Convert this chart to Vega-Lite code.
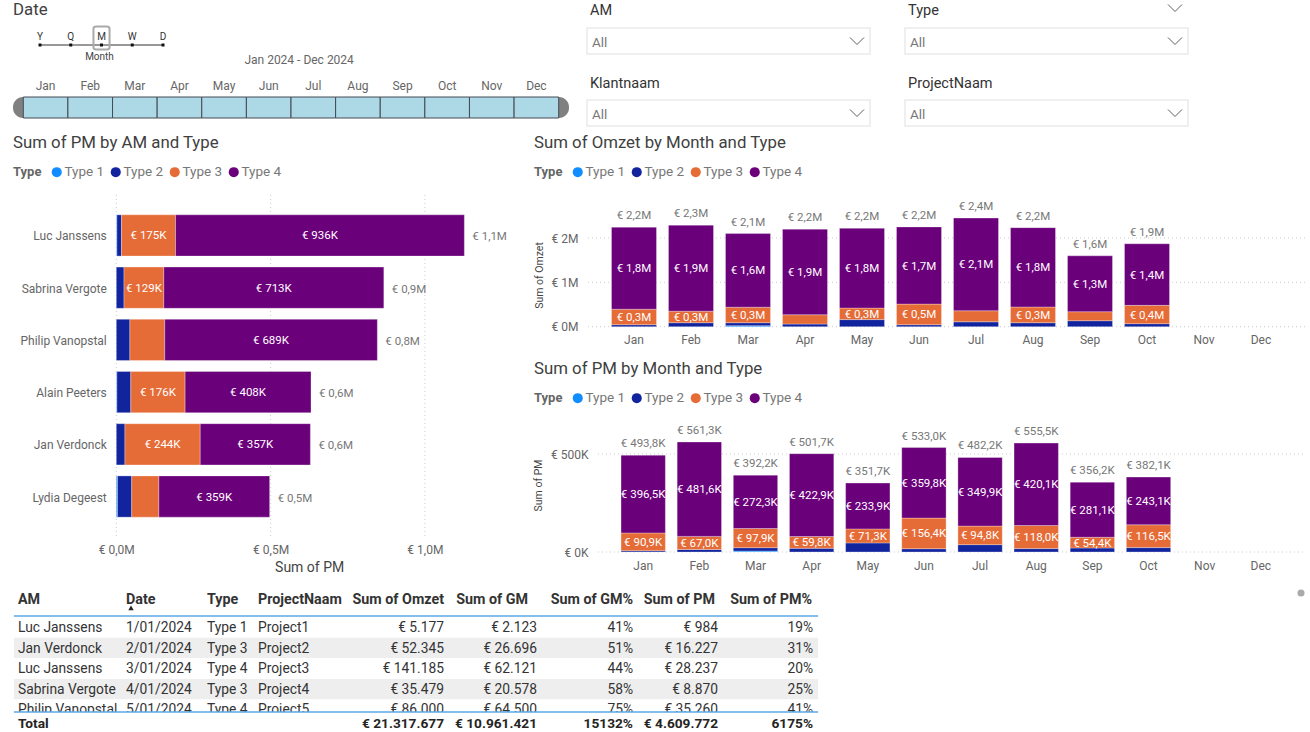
{
  "$schema": "https://vega.github.io/schema/vega-lite/v6.json",
  "width": 1310,
  "height": 732,
  "padding": 0,
  "autosize": {"type": "none"},
  "background": "#ffffff",
  "config": {
    "font": "Roboto",
    "view": {"stroke": null},
    "text": {"font": "Roboto", "fontSize": 12, "color": "#666666"},
    "axis": {"domain": false, "ticks": false, "grid": false, "labelFlush": false, "labelFont": "Roboto", "labelFontSize": 12, "labelColor": "#666666", "titleFont": "Roboto", "titleFontWeight": "normal", "titleColor": "#444444"},
    "legend": {"titleFont": "Roboto", "labelFont": "Roboto", "titleFontSize": 13, "labelFontSize": 13.5, "titleColor": "#666666", "labelColor": "#777777", "titleFontWeight": "bold", "titlePadding": 8, "symbolType": "circle", "symbolSize": 100, "symbolStrokeWidth": 0, "labelOffset": 1, "columnPadding": 4}
  },
  "datasets": {
    "am": [
      {"AM": "Luc Janssens", "Type": "Type 1", "PM": 2000, "label": ""},
      {"AM": "Luc Janssens", "Type": "Type 2", "PM": 15000, "label": ""},
      {"AM": "Luc Janssens", "Type": "Type 3", "PM": 175000, "label": "€ 175K"},
      {"AM": "Luc Janssens", "Type": "Type 4", "PM": 936000, "label": "€ 936K"},
      {"AM": "Sabrina Vergote", "Type": "Type 2", "PM": 25000, "label": ""},
      {"AM": "Sabrina Vergote", "Type": "Type 3", "PM": 129000, "label": "€ 129K"},
      {"AM": "Sabrina Vergote", "Type": "Type 4", "PM": 713000, "label": "€ 713K"},
      {"AM": "Philip Vanopstal", "Type": "Type 2", "PM": 44000, "label": ""},
      {"AM": "Philip Vanopstal", "Type": "Type 3", "PM": 113000, "label": ""},
      {"AM": "Philip Vanopstal", "Type": "Type 4", "PM": 689000, "label": "€ 689K"},
      {"AM": "Alain Peeters", "Type": "Type 1", "PM": 2000, "label": ""},
      {"AM": "Alain Peeters", "Type": "Type 2", "PM": 45000, "label": ""},
      {"AM": "Alain Peeters", "Type": "Type 3", "PM": 176000, "label": "€ 176K"},
      {"AM": "Alain Peeters", "Type": "Type 4", "PM": 408000, "label": "€ 408K"},
      {"AM": "Jan Verdonck", "Type": "Type 2", "PM": 28000, "label": ""},
      {"AM": "Jan Verdonck", "Type": "Type 3", "PM": 244000, "label": "€ 244K"},
      {"AM": "Jan Verdonck", "Type": "Type 4", "PM": 357000, "label": "€ 357K"},
      {"AM": "Lydia Degeest", "Type": "Type 1", "PM": 4000, "label": ""},
      {"AM": "Lydia Degeest", "Type": "Type 2", "PM": 46000, "label": ""},
      {"AM": "Lydia Degeest", "Type": "Type 3", "PM": 88000, "label": ""},
      {"AM": "Lydia Degeest", "Type": "Type 4", "PM": 359000, "label": "€ 359K"}
    ],
    "amTotals": [
      {"AM": "Luc Janssens", "PM": 1128000, "label": "€ 1,1M"},
      {"AM": "Sabrina Vergote", "PM": 867000, "label": "€ 0,9M"},
      {"AM": "Philip Vanopstal", "PM": 846000, "label": "€ 0,8M"},
      {"AM": "Alain Peeters", "PM": 631000, "label": "€ 0,6M"},
      {"AM": "Jan Verdonck", "PM": 629000, "label": "€ 0,6M"},
      {"AM": "Lydia Degeest", "PM": 497000, "label": "€ 0,5M"}
    ],
    "omzet": [
      {"Month": "Jan", "Type": "Type 2", "Omzet": 45000, "label": ""},
      {"Month": "Jan", "Type": "Type 3", "Omzet": 350000, "label": "€ 0,3M"},
      {"Month": "Jan", "Type": "Type 4", "Omzet": 1850000, "label": "€ 1,8M"},
      {"Month": "Feb", "Type": "Type 2", "Omzet": 90000, "label": ""},
      {"Month": "Feb", "Type": "Type 3", "Omzet": 260000, "label": "€ 0,3M"},
      {"Month": "Feb", "Type": "Type 4", "Omzet": 1940000, "label": "€ 1,9M"},
      {"Month": "Mar", "Type": "Type 1", "Omzet": 23000, "label": ""},
      {"Month": "Mar", "Type": "Type 2", "Omzet": 67000, "label": ""},
      {"Month": "Mar", "Type": "Type 3", "Omzet": 350000, "label": "€ 0,3M"},
      {"Month": "Mar", "Type": "Type 4", "Omzet": 1660000, "label": "€ 1,6M"},
      {"Month": "Apr", "Type": "Type 2", "Omzet": 60000, "label": ""},
      {"Month": "Apr", "Type": "Type 3", "Omzet": 210000, "label": ""},
      {"Month": "Apr", "Type": "Type 4", "Omzet": 1930000, "label": "€ 1,9M"},
      {"Month": "May", "Type": "Type 2", "Omzet": 160000, "label": ""},
      {"Month": "May", "Type": "Type 3", "Omzet": 260000, "label": "€ 0,3M"},
      {"Month": "May", "Type": "Type 4", "Omzet": 1800000, "label": "€ 1,8M"},
      {"Month": "Jun", "Type": "Type 2", "Omzet": 45000, "label": ""},
      {"Month": "Jun", "Type": "Type 3", "Omzet": 465000, "label": "€ 0,5M"},
      {"Month": "Jun", "Type": "Type 4", "Omzet": 1740000, "label": "€ 1,7M"},
      {"Month": "Jul", "Type": "Type 2", "Omzet": 110000, "label": ""},
      {"Month": "Jul", "Type": "Type 3", "Omzet": 250000, "label": ""},
      {"Month": "Jul", "Type": "Type 4", "Omzet": 2090000, "label": "€ 2,1M"},
      {"Month": "Aug", "Type": "Type 2", "Omzet": 90000, "label": ""},
      {"Month": "Aug", "Type": "Type 3", "Omzet": 354000, "label": "€ 0,3M"},
      {"Month": "Aug", "Type": "Type 4", "Omzet": 1790000, "label": "€ 1,8M"},
      {"Month": "Sep", "Type": "Type 2", "Omzet": 135000, "label": ""},
      {"Month": "Sep", "Type": "Type 3", "Omzet": 203000, "label": ""},
      {"Month": "Sep", "Type": "Type 4", "Omzet": 1260000, "label": "€ 1,3M"},
      {"Month": "Oct", "Type": "Type 2", "Omzet": 68000, "label": ""},
      {"Month": "Oct", "Type": "Type 3", "Omzet": 413000, "label": "€ 0,4M"},
      {"Month": "Oct", "Type": "Type 4", "Omzet": 1390000, "label": "€ 1,4M"}
    ],
    "omzetTotals": [
      {"Month": "Jan", "Omzet": 2245000, "label": "€ 2,2M"},
      {"Month": "Feb", "Omzet": 2290000, "label": "€ 2,3M"},
      {"Month": "Mar", "Omzet": 2100000, "label": "€ 2,1M"},
      {"Month": "Apr", "Omzet": 2200000, "label": "€ 2,2M"},
      {"Month": "May", "Omzet": 2220000, "label": "€ 2,2M"},
      {"Month": "Jun", "Omzet": 2250000, "label": "€ 2,2M"},
      {"Month": "Jul", "Omzet": 2450000, "label": "€ 2,4M"},
      {"Month": "Aug", "Omzet": 2234000, "label": "€ 2,2M"},
      {"Month": "Sep", "Omzet": 1598000, "label": "€ 1,6M"},
      {"Month": "Oct", "Omzet": 1871000, "label": "€ 1,9M"}
    ],
    "pm": [
      {"Month": "Jan", "Type": "Type 2", "PM": 6400, "label": ""},
      {"Month": "Jan", "Type": "Type 3", "PM": 90900, "label": "€ 90,9K"},
      {"Month": "Jan", "Type": "Type 4", "PM": 396500, "label": "€ 396,5K"},
      {"Month": "Feb", "Type": "Type 2", "PM": 12700, "label": ""},
      {"Month": "Feb", "Type": "Type 3", "PM": 67000, "label": "€ 67,0K"},
      {"Month": "Feb", "Type": "Type 4", "PM": 481600, "label": "€ 481,6K"},
      {"Month": "Mar", "Type": "Type 1", "PM": 5000, "label": ""},
      {"Month": "Mar", "Type": "Type 2", "PM": 17000, "label": ""},
      {"Month": "Mar", "Type": "Type 3", "PM": 97900, "label": "€ 97,9K"},
      {"Month": "Mar", "Type": "Type 4", "PM": 272300, "label": "€ 272,3K"},
      {"Month": "Apr", "Type": "Type 2", "PM": 19000, "label": ""},
      {"Month": "Apr", "Type": "Type 3", "PM": 59800, "label": "€ 59,8K"},
      {"Month": "Apr", "Type": "Type 4", "PM": 422900, "label": "€ 422,9K"},
      {"Month": "May", "Type": "Type 2", "PM": 46500, "label": ""},
      {"Month": "May", "Type": "Type 3", "PM": 71300, "label": "€ 71,3K"},
      {"Month": "May", "Type": "Type 4", "PM": 233900, "label": "€ 233,9K"},
      {"Month": "Jun", "Type": "Type 2", "PM": 16800, "label": ""},
      {"Month": "Jun", "Type": "Type 3", "PM": 156400, "label": "€ 156,4K"},
      {"Month": "Jun", "Type": "Type 4", "PM": 359800, "label": "€ 359,8K"},
      {"Month": "Jul", "Type": "Type 2", "PM": 37500, "label": ""},
      {"Month": "Jul", "Type": "Type 3", "PM": 94800, "label": "€ 94,8K"},
      {"Month": "Jul", "Type": "Type 4", "PM": 349900, "label": "€ 349,9K"},
      {"Month": "Aug", "Type": "Type 2", "PM": 17400, "label": ""},
      {"Month": "Aug", "Type": "Type 3", "PM": 118000, "label": "€ 118,0K"},
      {"Month": "Aug", "Type": "Type 4", "PM": 420100, "label": "€ 420,1K"},
      {"Month": "Sep", "Type": "Type 2", "PM": 20700, "label": ""},
      {"Month": "Sep", "Type": "Type 3", "PM": 54400, "label": "€ 54,4K"},
      {"Month": "Sep", "Type": "Type 4", "PM": 281100, "label": "€ 281,1K"},
      {"Month": "Oct", "Type": "Type 2", "PM": 22500, "label": ""},
      {"Month": "Oct", "Type": "Type 3", "PM": 116500, "label": "€ 116,5K"},
      {"Month": "Oct", "Type": "Type 4", "PM": 243100, "label": "€ 243,1K"}
    ],
    "pmTotals": [
      {"Month": "Jan", "PM": 493800, "label": "€ 493,8K"},
      {"Month": "Feb", "PM": 561300, "label": "€ 561,3K"},
      {"Month": "Mar", "PM": 392200, "label": "€ 392,2K"},
      {"Month": "Apr", "PM": 501700, "label": "€ 501,7K"},
      {"Month": "May", "PM": 351700, "label": "€ 351,7K"},
      {"Month": "Jun", "PM": 533000, "label": "€ 533,0K"},
      {"Month": "Jul", "PM": 482200, "label": "€ 482,2K"},
      {"Month": "Aug", "PM": 555500, "label": "€ 555,5K"},
      {"Month": "Sep", "PM": 356200, "label": "€ 356,2K"},
      {"Month": "Oct", "PM": 382100, "label": "€ 382,1K"}
    ],
    "months": [
      {"Month": "Jan"}, {"Month": "Feb"}, {"Month": "Mar"}, {"Month": "Apr"}, {"Month": "May"}, {"Month": "Jun"},
      {"Month": "Jul"}, {"Month": "Aug"}, {"Month": "Sep"}, {"Month": "Oct"}, {"Month": "Nov"}, {"Month": "Dec"}
    ],
    "levels": [{"Level": "Y"}, {"Level": "Q"}, {"Level": "M"}, {"Level": "W"}, {"Level": "D"}],
    "slicers": [
      {"Field": "AM", "Column": "left", "Row": "top"},
      {"Field": "Type", "Column": "right", "Row": "top"},
      {"Field": "Klantnaam", "Column": "left", "Row": "bottom"},
      {"Field": "ProjectNaam", "Column": "right", "Row": "bottom"}
    ],
    "tableHeader": [
      {"col": 0, "text": "AM"}, {"col": 1, "text": "Date"}, {"col": 2, "text": "Type"}, {"col": 3, "text": "ProjectNaam"},
      {"col": 4, "text": "Sum of Omzet"}, {"col": 5, "text": "Sum of GM"}, {"col": 6, "text": "Sum of GM%"}, {"col": 7, "text": "Sum of PM"}, {"col": 8, "text": "Sum of PM%"}
    ],
    "tableBody": [
      {"row": 1, "col": 0, "text": "Luc Janssens"}, {"row": 1, "col": 1, "text": "1/01/2024"}, {"row": 1, "col": 2, "text": "Type 1"}, {"row": 1, "col": 3, "text": "Project1"}, {"row": 1, "col": 4, "text": "€ 5.177"}, {"row": 1, "col": 5, "text": "€ 2.123"}, {"row": 1, "col": 6, "text": "41%"}, {"row": 1, "col": 7, "text": "€ 984"}, {"row": 1, "col": 8, "text": "19%"},
      {"row": 2, "col": 0, "text": "Jan Verdonck"}, {"row": 2, "col": 1, "text": "2/01/2024"}, {"row": 2, "col": 2, "text": "Type 3"}, {"row": 2, "col": 3, "text": "Project2"}, {"row": 2, "col": 4, "text": "€ 52.345"}, {"row": 2, "col": 5, "text": "€ 26.696"}, {"row": 2, "col": 6, "text": "51%"}, {"row": 2, "col": 7, "text": "€ 16.227"}, {"row": 2, "col": 8, "text": "31%"},
      {"row": 3, "col": 0, "text": "Luc Janssens"}, {"row": 3, "col": 1, "text": "3/01/2024"}, {"row": 3, "col": 2, "text": "Type 4"}, {"row": 3, "col": 3, "text": "Project3"}, {"row": 3, "col": 4, "text": "€ 141.185"}, {"row": 3, "col": 5, "text": "€ 62.121"}, {"row": 3, "col": 6, "text": "44%"}, {"row": 3, "col": 7, "text": "€ 28.237"}, {"row": 3, "col": 8, "text": "20%"},
      {"row": 4, "col": 0, "text": "Sabrina Vergote"}, {"row": 4, "col": 1, "text": "4/01/2024"}, {"row": 4, "col": 2, "text": "Type 3"}, {"row": 4, "col": 3, "text": "Project4"}, {"row": 4, "col": 4, "text": "€ 35.479"}, {"row": 4, "col": 5, "text": "€ 20.578"}, {"row": 4, "col": 6, "text": "58%"}, {"row": 4, "col": 7, "text": "€ 8.870"}, {"row": 4, "col": 8, "text": "25%"},
      {"row": 5, "col": 0, "text": "Philip Vanopstal"}, {"row": 5, "col": 1, "text": "5/01/2024"}, {"row": 5, "col": 2, "text": "Type 4"}, {"row": 5, "col": 3, "text": "Project5"}, {"row": 5, "col": 4, "text": "€ 86.000"}, {"row": 5, "col": 5, "text": "€ 64.500"}, {"row": 5, "col": 6, "text": "75%"}, {"row": 5, "col": 7, "text": "€ 35.260"}, {"row": 5, "col": 8, "text": "41%"}
    ],
    "tableTotal": [
      {"row": 6, "col": 0, "text": "Total"}, {"row": 6, "col": 4, "text": "€ 21.317.677"}, {"row": 6, "col": 5, "text": "€ 10.961.421"}, {"row": 6, "col": 6, "text": "15132%"}, {"row": 6, "col": 7, "text": "€ 4.609.772"}, {"row": 6, "col": 8, "text": "6175%"}
    ]
  },
  "resolve": {
    "scale": {"x": "independent", "y": "independent", "color": "independent"},
    "axis": {"x": "independent", "y": "independent"},
    "legend": {"color": "independent"}
  },
  "layer": [
    {
      "data": {"values": [
        {"title": "Date", "col": 0, "row": 0},
        {"title": "Sum of PM by AM and Type", "col": 0, "row": 1},
        {"title": "Sum of Omzet by Month and Type", "col": 1, "row": 1},
        {"title": "Sum of PM by Month and Type", "col": 1, "row": 2}
      ]},
      "mark": {"type": "text", "align": "left", "fontSize": 16.8, "color": "#404040"},
      "encoding": {
        "x": {"field": "col", "type": "quantitative", "axis": null, "scale": {"domain": [0, 1], "range": [13, 534], "nice": false}},
        "y": {"field": "row", "type": "quantitative", "axis": null, "scale": {"domain": [0, 1, 2], "range": [10, 143, 369], "nice": false}},
        "text": {"field": "title"}
      }
    },
    {
      "data": {"name": "levels"},
      "encoding": {
        "x": {"field": "Level", "type": "nominal", "sort": null, "axis": null, "scale": {"type": "point", "domain": ["Y", "Q", "M", "W", "D"], "range": [40, 163], "padding": 0}},
        "y": {"datum": 0, "type": "quantitative", "axis": null, "scale": {"domain": [0, 1], "range": [45, 46], "nice": false}}
      },
      "layer": [
        {"mark": {"type": "line", "color": "#333333", "strokeWidth": 1}},
        {"mark": {"type": "point", "shape": "square", "filled": true, "size": 9, "color": "#111111", "opacity": 1}},
        {"mark": {"type": "text", "dy": -8, "fontSize": 10, "color": "#333333"}, "encoding": {"text": {"field": "Level"}}},
        {
          "transform": [{"filter": "datum.Level === 'M'"}],
          "mark": {"type": "point", "shape": "M-0.45,-1L0.45,-1Q0.7,-1 0.7,-0.8L0.7,0.8Q0.7,1 0.45,1L-0.45,1Q-0.7,1 -0.7,0.8L-0.7,-0.8Q-0.7,-1 -0.45,-1Z", "size": 529, "stroke": "#aaaaaa", "strokeWidth": 2, "opacity": 1, "filled": false},
          "encoding": {"yOffset": {"value": -7}}
        },
        {
          "transform": [{"filter": "datum.Level === 'M'"}],
          "mark": {"type": "text", "dy": 12, "dx": -2, "fontSize": 10, "color": "#444444", "text": "Month"}
        }
      ]
    },
    {
      "data": {"name": "months"},
      "encoding": {
        "y": {"datum": "Date", "type": "nominal", "axis": null, "scale": {"type": "band", "domain": ["Date"], "range": [97, 118], "paddingInner": 0, "paddingOuter": 0}}
      },
      "layer": [
        {
          "data": {"values": [{"track": "Date"}]},
          "mark": {"type": "rect", "fill": "#808080", "cornerRadius": 10},
          "encoding": {
            "x": {"datum": 0, "type": "quantitative", "axis": null, "scale": {"domain": [0, 1], "range": [13, 569], "nice": false}},
            "x2": {"datum": 1}
          }
        },
        {
          "mark": {"type": "rect", "fill": "#ADD8E6", "stroke": "#444b55", "strokeWidth": 1},
          "encoding": {
            "x": {"field": "Month", "type": "nominal", "sort": null, "scale": {"type": "band", "domain": ["Jan", "Feb", "Mar", "Apr", "May", "Jun", "Jul", "Aug", "Sep", "Oct", "Nov", "Dec"], "range": [23.3, 558.7], "paddingInner": 0, "paddingOuter": 0}, "axis": {"orient": "top", "offset": -97, "title": null, "labelAngle": 0, "labelPadding": 5}}
          }
        }
      ]
    },
    {
      "data": {"values": [{"text": "Jan 2024 - Dec 2024", "Month": "Jun"}]},
      "mark": {"type": "text", "align": "left", "dx": -2, "dy": -47.5, "color": "#666666", "fontSize": 12},
      "encoding": {
        "x": {"field": "Month", "type": "nominal", "bandPosition": 0, "axis": null, "scale": {"type": "band", "domain": ["Jan", "Feb", "Mar", "Apr", "May", "Jun", "Jul", "Aug", "Sep", "Oct", "Nov", "Dec"], "range": [23.3, 558.7], "paddingInner": 0, "paddingOuter": 0}},
        "y": {"datum": "Date", "type": "nominal", "axis": null, "scale": {"type": "band", "domain": ["Date"], "range": [97, 118], "paddingInner": 0, "paddingOuter": 0}},
        "text": {"field": "text"}
      }
    },
    {
      "data": {"name": "slicers"},
      "encoding": {
        "x": {"field": "Column", "type": "nominal", "axis": null, "bandPosition": 0, "scale": {"type": "band", "domain": ["left", "right"], "range": [587, 1188], "paddingInner": 0.11, "paddingOuter": 0}},
        "y": {"field": "Row", "type": "nominal", "axis": null, "scale": {"type": "band", "domain": ["top", "bottom"], "range": [28, 126], "paddingInner": 0.639, "paddingOuter": 0}}
      },
      "layer": [
        {
          "mark": {"type": "rect", "fill": "#ffffff", "stroke": "#eaeaea", "strokeWidth": 1.5},
          "encoding": {"x": {"field": "Column", "type": "nominal", "axis": null}}
        },
        {"mark": {"type": "text", "align": "left", "dx": 3, "dy": -29.5, "fontSize": 14.5, "color": "#333333"}, "encoding": {"text": {"field": "Field"}}},
        {"mark": {"type": "text", "align": "left", "dx": 5, "dy": 2, "fontSize": 13.5, "color": "#777777", "text": "All"}}
      ]
    },
    {
      "data": {"values": [{"col": 1, "row": 0}, {"col": 0, "row": 1}, {"col": 1, "row": 1}, {"col": 0, "row": 2}, {"col": 1, "row": 2}]},
      "mark": {"type": "point", "shape": "M-1,-0.5L0,0.5L1,-0.5", "size": 196, "filled": false, "stroke": "#605e5c", "strokeWidth": 1, "opacity": 1},
      "encoding": {
        "x": {"field": "col", "type": "quantitative", "axis": null, "scale": {"domain": [0, 1], "range": [857, 1175], "nice": false}},
        "y": {"field": "row", "type": "quantitative", "axis": null, "scale": {"domain": [0, 1, 2], "range": [8, 41, 113], "nice": false}}
      }
    },
    {
      "data": {"values": [{"tick": 0}, {"tick": 500000}, {"tick": 1000000}]},
      "mark": {"type": "rule", "color": "#cccccc", "strokeDash": [1, 3], "strokeWidth": 1},
      "encoding": {
        "x": {"field": "tick", "type": "quantitative", "scale": {"domain": [0, 1250000], "range": [116.3, 502], "nice": false}, "axis": {"orient": "bottom", "offset": -195, "title": "Sum of PM", "titleFontSize": 14, "titlePadding": 5, "titleColor": "#444444", "values": [0, 500000, 1000000], "labelPadding": 7, "labelExpr": "'€ ' + replace(format(datum.value / 1000000, '.1f'), '.', ',') + 'M'"}},
        "y": {"datum": 0, "type": "quantitative", "axis": null, "scale": {"domain": [0, 1], "range": [195, 537], "nice": false}},
        "y2": {"datum": 1}
      }
    },
    {
      "data": {"name": "am"},
      "encoding": {
        "y": {"field": "AM", "type": "nominal", "sort": null, "scale": {"type": "band", "domain": ["Luc Janssens", "Sabrina Vergote", "Philip Vanopstal", "Alain Peeters", "Jan Verdonck", "Lydia Degeest"], "range": [195, 537], "paddingInner": 0.21, "paddingOuter": 0.38}, "axis": {"orient": "left", "offset": -116.3, "title": null, "labelPadding": 10, "labelOffset": 1}}
      },
      "layer": [
        {
          "mark": {"type": "bar", "stroke": "#ffffff", "strokeOpacity": 0.3, "strokeWidth": 1},
          "encoding": {
            "x": {"field": "PM", "type": "quantitative", "stack": "zero", "axis": null, "scale": {"domain": [0, 1250000], "range": [116.3, 502], "nice": false}},
            "color": {"field": "Type", "type": "nominal", "scale": {"domain": ["Type 1", "Type 2", "Type 3", "Type 4"], "range": ["#118DFF", "#12239E", "#E66C37", "#6B007B"]}, "legend": {"orient": "none", "legendX": 13, "legendY": 165, "direction": "horizontal", "titleOrient": "left", "title": "Type"}},
            "order": {"field": "Type", "sort": "ascending"}
          }
        },
        {
          "mark": {"type": "text", "color": "#ffffff", "fontSize": 11.5, "dy": 1},
          "encoding": {
            "x": {"field": "PM", "type": "quantitative", "stack": "zero", "bandPosition": 0.5, "axis": null},
            "detail": {"field": "Type"},
            "order": {"field": "Type", "sort": "ascending"},
            "text": {"field": "label"}
          }
        },
        {
          "data": {"name": "amTotals"},
          "mark": {"type": "text", "align": "left", "dx": 8, "dy": 2, "fontSize": 11.5, "color": "#777777"},
          "encoding": {
            "x": {"field": "PM", "type": "quantitative", "axis": null},
            "text": {"field": "label"}
          }
        }
      ]
    },
    {
      "data": {"values": [{"tick": 0}, {"tick": 1000000}, {"tick": 2000000}]},
      "mark": {"type": "rule", "color": "#cccccc", "strokeDash": [1, 3], "strokeWidth": 1},
      "encoding": {
        "y": {"field": "tick", "type": "quantitative", "scale": {"domain": [0, 2600000], "range": [326.7, 211.4], "nice": false}, "axis": {"orient": "left", "offset": -585, "title": "Sum of Omzet", "titleFontSize": 10.5, "titleX": -41, "titleY": 275, "values": [0, 1000000, 2000000], "labelPadding": 7, "labelExpr": "'€ ' + format(datum.value / 1000000, '.0f') + 'M'"}},
        "x": {"datum": 0, "type": "quantitative", "axis": null, "scale": {"domain": [0, 1], "range": [588, 1305], "nice": false}},
        "x2": {"datum": 1}
      }
    },
    {
      "data": {"name": "omzet"},
      "encoding": {
        "x": {"field": "Month", "type": "nominal", "sort": null, "scale": {"type": "band", "domain": ["Jan", "Feb", "Mar", "Apr", "May", "Jun", "Jul", "Aug", "Sep", "Oct", "Nov", "Dec"], "range": [588, 1307], "paddingInner": 0.21, "paddingOuter": 0.412}, "axis": {"orient": "bottom", "offset": -405.3, "title": null, "labelAngle": 0, "labelPadding": 8}}
      },
      "layer": [
        {
          "mark": {"type": "bar", "stroke": "#ffffff", "strokeOpacity": 0.3, "strokeWidth": 1},
          "encoding": {
            "y": {"field": "Omzet", "type": "quantitative", "stack": "zero", "axis": null, "scale": {"domain": [0, 2600000], "range": [326.7, 211.4], "nice": false}},
            "color": {"field": "Type", "type": "nominal", "scale": {"domain": ["Type 1", "Type 2", "Type 3", "Type 4"], "range": ["#118DFF", "#12239E", "#E66C37", "#6B007B"]}, "legend": {"orient": "none", "legendX": 534, "legendY": 165, "direction": "horizontal", "titleOrient": "left", "title": "Type"}},
            "order": {"field": "Type", "sort": "ascending"}
          }
        },
        {
          "mark": {"type": "text", "color": "#ffffff", "fontSize": 11.5, "dy": 1},
          "encoding": {
            "y": {"field": "Omzet", "type": "quantitative", "stack": "zero", "bandPosition": 0.5, "axis": null},
            "detail": {"field": "Type"},
            "order": {"field": "Type", "sort": "ascending"},
            "text": {"field": "label"}
          }
        },
        {
          "data": {"name": "omzetTotals"},
          "mark": {"type": "text", "dy": -11, "fontSize": 11.5, "color": "#777777"},
          "encoding": {
            "y": {"field": "Omzet", "type": "quantitative", "axis": null},
            "text": {"field": "label"}
          }
        }
      ]
    },
    {
      "data": {"values": [{"tick": 0}, {"tick": 500000}]},
      "mark": {"type": "rule", "color": "#cccccc", "strokeDash": [1, 3], "strokeWidth": 1},
      "encoding": {
        "y": {"field": "tick", "type": "quantitative", "scale": {"domain": [0, 600000], "range": [552, 434.4], "nice": false}, "axis": {"orient": "left", "offset": -595, "title": "Sum of PM", "titleFontSize": 10.5, "titleX": -52, "titleY": 485, "values": [0, 500000], "labelPadding": 7, "labelExpr": "'€ ' + format(datum.value / 1000, '.0f') + 'K'"}},
        "x": {"datum": 0, "type": "quantitative", "axis": null, "scale": {"domain": [0, 1], "range": [598, 1303], "nice": false}},
        "x2": {"datum": 1}
      }
    },
    {
      "data": {"name": "pm"},
      "encoding": {
        "x": {"field": "Month", "type": "nominal", "sort": null, "scale": {"type": "band", "domain": ["Jan", "Feb", "Mar", "Apr", "May", "Jun", "Jul", "Aug", "Sep", "Oct", "Nov", "Dec"], "range": [598, 1306], "paddingInner": 0.21, "paddingOuter": 0.41}, "axis": {"orient": "bottom", "offset": -180, "title": null, "labelAngle": 0, "labelPadding": 8}}
      },
      "layer": [
        {
          "mark": {"type": "bar", "stroke": "#ffffff", "strokeOpacity": 0.3, "strokeWidth": 1},
          "encoding": {
            "y": {"field": "PM", "type": "quantitative", "stack": "zero", "axis": null, "scale": {"domain": [0, 600000], "range": [552, 434.4], "nice": false}},
            "color": {"field": "Type", "type": "nominal", "scale": {"domain": ["Type 1", "Type 2", "Type 3", "Type 4"], "range": ["#118DFF", "#12239E", "#E66C37", "#6B007B"]}, "legend": {"orient": "none", "legendX": 534, "legendY": 391, "direction": "horizontal", "titleOrient": "left", "title": "Type"}},
            "order": {"field": "Type", "sort": "ascending"}
          }
        },
        {
          "mark": {"type": "text", "color": "#ffffff", "fontSize": 11.5, "dy": 1},
          "encoding": {
            "y": {"field": "PM", "type": "quantitative", "stack": "zero", "bandPosition": 0.5, "axis": null},
            "detail": {"field": "Type"},
            "order": {"field": "Type", "sort": "ascending"},
            "text": {"field": "label"}
          }
        },
        {
          "data": {"name": "pmTotals"},
          "mark": {"type": "text", "dy": -11, "fontSize": 11.5, "color": "#777777"},
          "encoding": {
            "y": {"field": "PM", "type": "quantitative", "axis": null},
            "text": {"field": "label"}
          }
        }
      ]
    },
    {
      "data": {"values": [{"row": 2}, {"row": 4}]},
      "mark": {"type": "rect", "fill": "#eeeeee"},
      "encoding": {
        "x": {"datum": 0, "type": "quantitative", "axis": null, "scale": {"domain": [0, 1], "range": [14, 818], "nice": false}},
        "x2": {"datum": 1},
        "y": {"field": "row", "type": "ordinal", "axis": null, "scale": {"type": "band", "domain": [1, 2, 3, 4, 5], "range": [617, 720], "paddingInner": 0.02, "paddingOuter": 0}}
      }
    },
    {
      "data": {"name": "tableBody"},
      "mark": {"type": "text", "fontSize": 13.8, "color": "#333333", "align": {"expr": "datum.col < 4 ? 'left' : 'right'"}},
      "encoding": {
        "x": {"field": "col", "type": "quantitative", "axis": null, "scale": {"domain": [0, 1, 2, 3, 4, 5, 6, 7, 8], "range": [18, 126, 207, 258, 444, 537, 633, 718, 813], "nice": false}},
        "y": {"field": "row", "type": "quantitative", "axis": null, "scale": {"domain": [0, 1, 5, 6], "range": [600, 628, 710.4, 724], "nice": false}},
        "text": {"field": "text"}
      }
    },
    {
      "data": {"values": [{"from": 5.19, "to": 6.7}]},
      "mark": {"type": "rect", "fill": "#ffffff"},
      "encoding": {
        "x": {"datum": 0, "type": "quantitative", "axis": null, "scale": {"domain": [0, 1], "range": [14, 818], "nice": false}},
        "x2": {"datum": 1},
        "y": {"field": "from", "type": "quantitative", "axis": null, "scale": {"domain": [0, 1, 5, 6], "range": [599, 627, 709.4, 723], "nice": false}},
        "y2": {"field": "to"}
      }
    },
    {
      "data": {"values": [{"at": 0.607}, {"at": 5.19}]},
      "mark": {"type": "rule", "color": "#5aa9e6", "strokeWidth": 1.5},
      "encoding": {
        "x": {"datum": 0, "type": "quantitative", "axis": null, "scale": {"domain": [0, 1], "range": [14, 818], "nice": false}},
        "x2": {"datum": 1},
        "y": {"field": "at", "type": "quantitative", "axis": null, "scale": {"domain": [0, 1, 5, 6], "range": [599, 627, 709.4, 723], "nice": false}}
      }
    },
    {
      "data": {"name": "tableHeader"},
      "mark": {"type": "text", "fontSize": 14.3, "fontWeight": "bold", "color": "#333333", "align": {"expr": "datum.col < 4 ? 'left' : 'right'"}},
      "encoding": {
        "x": {"field": "col", "type": "quantitative", "axis": null, "scale": {"domain": [0, 1, 2, 3, 4, 5, 6, 7, 8], "range": [18, 126, 207, 258, 444, 528, 633, 715, 812], "nice": false}},
        "y": {"datum": 0, "type": "quantitative", "axis": null, "scale": {"domain": [0, 1], "range": [600, 628], "nice": false}},
        "text": {"field": "text"}
      }
    },
    {
      "data": {"values": [{"col": 1, "row": 0.32}]},
      "mark": {"type": "point", "shape": "triangle-up", "filled": true, "size": 30, "color": "#222222", "opacity": 1},
      "encoding": {
        "x": {"field": "col", "type": "quantitative", "axis": null, "scale": {"domain": [0, 1], "range": [23, 131], "nice": false}},
        "y": {"field": "row", "type": "quantitative", "axis": null, "scale": {"domain": [0, 1], "range": [599, 627], "nice": false}}
      }
    },
    {
      "data": {"name": "tableTotal"},
      "mark": {"type": "text", "fontSize": 13.7, "fontWeight": "bold", "color": "#252423", "align": {"expr": "datum.col < 4 ? 'left' : 'right'"}},
      "encoding": {
        "x": {"field": "col", "type": "quantitative", "axis": null, "scale": {"domain": [0, 1, 2, 3, 4, 5, 6, 7, 8], "range": [18, 126, 207, 258, 444, 537, 633, 718, 813], "nice": false}},
        "y": {"field": "row", "type": "quantitative", "axis": null, "scale": {"domain": [0, 1, 5, 6], "range": [600, 628, 710.4, 724], "nice": false}},
        "text": {"field": "text"}
      }
    },
    {
      "data": {"values": [{"page": 1}]},
      "mark": {"type": "point", "filled": true, "size": 50, "color": "#aaaaaa", "opacity": 1},
      "encoding": {
        "x": {"field": "page", "type": "quantitative", "axis": null, "scale": {"domain": [0, 1], "range": [1300, 1301], "nice": false}},
        "y": {"field": "page", "type": "quantitative", "axis": null, "scale": {"domain": [0, 1], "range": [592, 593], "nice": false}}
      }
    }
  ]
}
